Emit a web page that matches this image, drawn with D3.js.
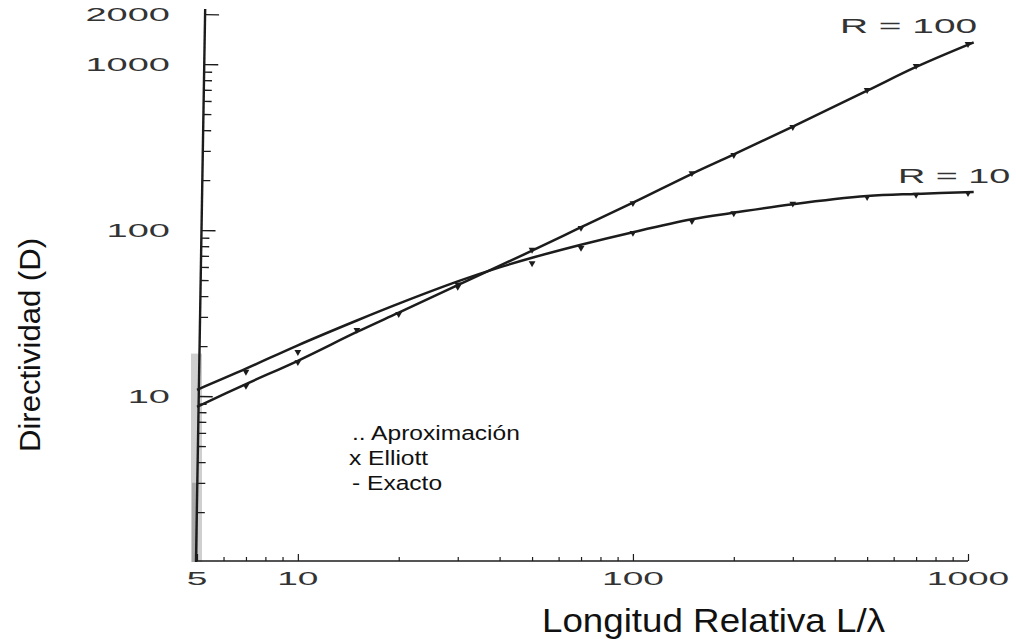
<!DOCTYPE html>
<html>
<head>
<meta charset="utf-8">
<script src="https://cdn.jsdelivr.net/npm/d3@7"></script>
<style>
  html, body { margin: 0; padding: 0; background: #fff; }
  svg { display: block; font-family: "Liberation Sans", Arial, sans-serif; }
</style>
</head>
<body>
<svg id="chart" width="1016" height="643"></svg>
<script>
// Exact directivity curves, D versus relative length L/λ
const lengthR10 = [5, 7, 10, 15, 20, 30, 40, 50, 70, 100, 150, 200, 300, 500, 700, 1040];
const directivityR10 = [10.9, 14.6, 20.2, 28.5, 36, 49, 59.5, 68, 81.5, 97, 116, 127, 143, 160, 165, 169.5];

const lengthR100 = [5, 7, 10, 15, 20, 30, 50, 70, 100, 150, 200, 300, 500, 700, 1040];
const directivityR100 = [8.6, 11.8, 16.3, 24.3, 31.8, 46.5, 75, 104, 146, 218, 285, 420, 690, 960, 1350];

// Computed points (Elliott / approximation) along each curve
const markLengthR10 = [7, 10, 30, 50, 70, 100, 150, 200, 300, 500, 700, 1000];
const markValueR10 = [14, 18.4, 47, 63, 78, 96, 113, 126, 144, 158, 163, 167];

const markLengthR100 = [7, 10, 15, 20, 30, 50, 70, 100, 150, 200, 300, 500, 700, 1000];
const markValueR100 = [11.5, 16, 25, 31.2, 45.4, 76, 103, 145, 220, 283, 417, 697, 973, 1320];

// Axis ticks
const xTickLabels = [5, 10, 100, 1000];
const xMinorTicks = [6, 7, 8, 9, 20, 30, 40, 50, 60, 70, 80, 90, 200, 300, 400, 500, 600, 700, 800, 900];
const yTickLabels = [10, 100, 1000, 2000];
const yMinorTicks = [2, 3, 4, 5, 6, 7, 8, 9, 20, 30, 40, 50, 60, 70, 80, 90, 200, 300, 400, 500, 600, 700, 800, 900];

const curveNames = ["R = 100", "R = 10"];
const legendItems = [".. Aproximación", "x Elliott", "- Exacto"];
const xTitle = "Longitud Relativa L/λ";
const yTitle = "Directividad (D)";

const svg = d3.select("#chart");
const ink = "#1c1c1c";
const labelInk = "#333";

const x = d3.scaleLog().domain([5, 1000]).range([197, 968]);
const y = d3.scaleLog().domain([1, 2000]).range([562, 14]);

// grey scan band along the lower part of the vertical axis
svg.append("rect")
  .attr("x", 191).attr("y", y(18)).attr("width", 11).attr("height", y(1) - y(18))
  .attr("fill", "#cfcfcf");
svg.append("rect")
  .attr("x", 192).attr("y", y(3)).attr("width", 6).attr("height", y(1) - y(3))
  .attr("fill", "#a9a9a9");

// vertical axis (slightly leaning, as printed)
const yAxisG = svg.append("g")
  .attr("transform", `translate(${x(5) - 1},0) rotate(0.95, 0, ${y(1)})`);

yAxisG.append("g")
  .call(d3.axisRight(y).tickValues(yMinorTicks).tickSize(8).tickFormat(""))
  .call(g => g.select(".domain").remove());
yAxisG.append("g")
  .call(d3.axisRight(y).tickValues(yTickLabels).tickSize(14).tickFormat(""))
  .call(g => g.select(".domain").remove());
yAxisG.append("line")
  .attr("x1", 0).attr("x2", 0).attr("y1", y(1)).attr("y2", 9)
  .attr("stroke", ink).attr("stroke-width", 2.4);
yAxisG.selectAll(".tick line").attr("stroke", ink).attr("stroke-width", 1.3);

// horizontal axis
const xAxisG = svg.append("g").attr("transform", `translate(0,${y(1) - 1})`);
xAxisG.append("g")
  .call(d3.axisTop(x).tickValues(xMinorTicks).tickSize(4).tickFormat(""))
  .call(g => g.select(".domain").remove());
xAxisG.append("g")
  .call(d3.axisTop(x).tickValues(xTickLabels).tickSize(7).tickFormat(""))
  .call(g => g.select(".domain").remove());
xAxisG.append("line")
  .attr("x1", x(5) - 2).attr("x2", x(1000)).attr("y1", 0).attr("y2", 0)
  .attr("stroke", ink).attr("stroke-width", 1.4);
xAxisG.selectAll(".tick line").attr("stroke", ink).attr("stroke-width", 1.2);

// stretched tick labels
function wideText(parent, txt, tx, ty, anchor, size, sx) {
  parent.append("text")
    .attr("transform", `translate(${tx},${ty}) scale(${sx},1)`)
    .attr("text-anchor", anchor)
    .attr("font-size", size)
    .attr("fill", labelInk)
    .text(txt);
}

yTickLabels.forEach(v => wideText(svg, v, 170, y(v) + 7, "end", 19, 2.0));
xTickLabels.forEach(v => wideText(svg, v, x(v), 585, "middle", 19, 1.95));

// curves
const line = d3.line()
  .x(d => x(d[0]))
  .y(d => y(d[1]))
  .curve(d3.curveCatmullRom.alpha(0.5));

svg.append("path")
  .datum(d3.zip(lengthR100, directivityR100))
  .attr("d", line)
  .attr("fill", "none").attr("stroke", ink).attr("stroke-width", 2.5);

svg.append("path")
  .datum(d3.zip(lengthR10, directivityR10))
  .attr("d", line)
  .attr("fill", "none").attr("stroke", ink).attr("stroke-width", 2.5);

// computed points
const tri = d3.symbol().type(d3.symbolTriangle).size(20);
function drawMarks(ls, vs) {
  svg.append("g").selectAll("path")
    .data(d3.zip(ls, vs))
    .join("path")
    .attr("d", tri)
    .attr("transform", d => `translate(${x(d[0])},${y(d[1])}) rotate(180)`)
    .attr("fill", ink);
}
drawMarks(markLengthR100, markValueR100);
drawMarks(markLengthR10, markValueR10);

// curve labels
wideText(svg, curveNames[0], 840, 33, "start", 21, 1.85);
wideText(svg, curveNames[1], 898, 183, "start", 21, 1.8);

// legend
legendItems.forEach((t, i) => {
  svg.append("text")
    .attr("transform", `translate(${i === 1 ? 349 : 352},${440 + i * 25}) scale(1.17,1)`)
    .attr("font-size", 21)
    .attr("fill", "#111")
    .text(t);
});

// axis titles
svg.append("text")
  .attr("x", 542).attr("y", 632)
  .attr("font-size", 33)
  .attr("textLength", 343).attr("lengthAdjust", "spacingAndGlyphs")
  .attr("fill", "#111")
  .text(xTitle);

svg.append("text")
  .attr("transform", "translate(40,345) rotate(-90)")
  .attr("text-anchor", "middle")
  .attr("font-size", 30)
  .attr("textLength", 214).attr("lengthAdjust", "spacingAndGlyphs")
  .attr("fill", "#111")
  .text(yTitle);
</script>
</body>
</html>
